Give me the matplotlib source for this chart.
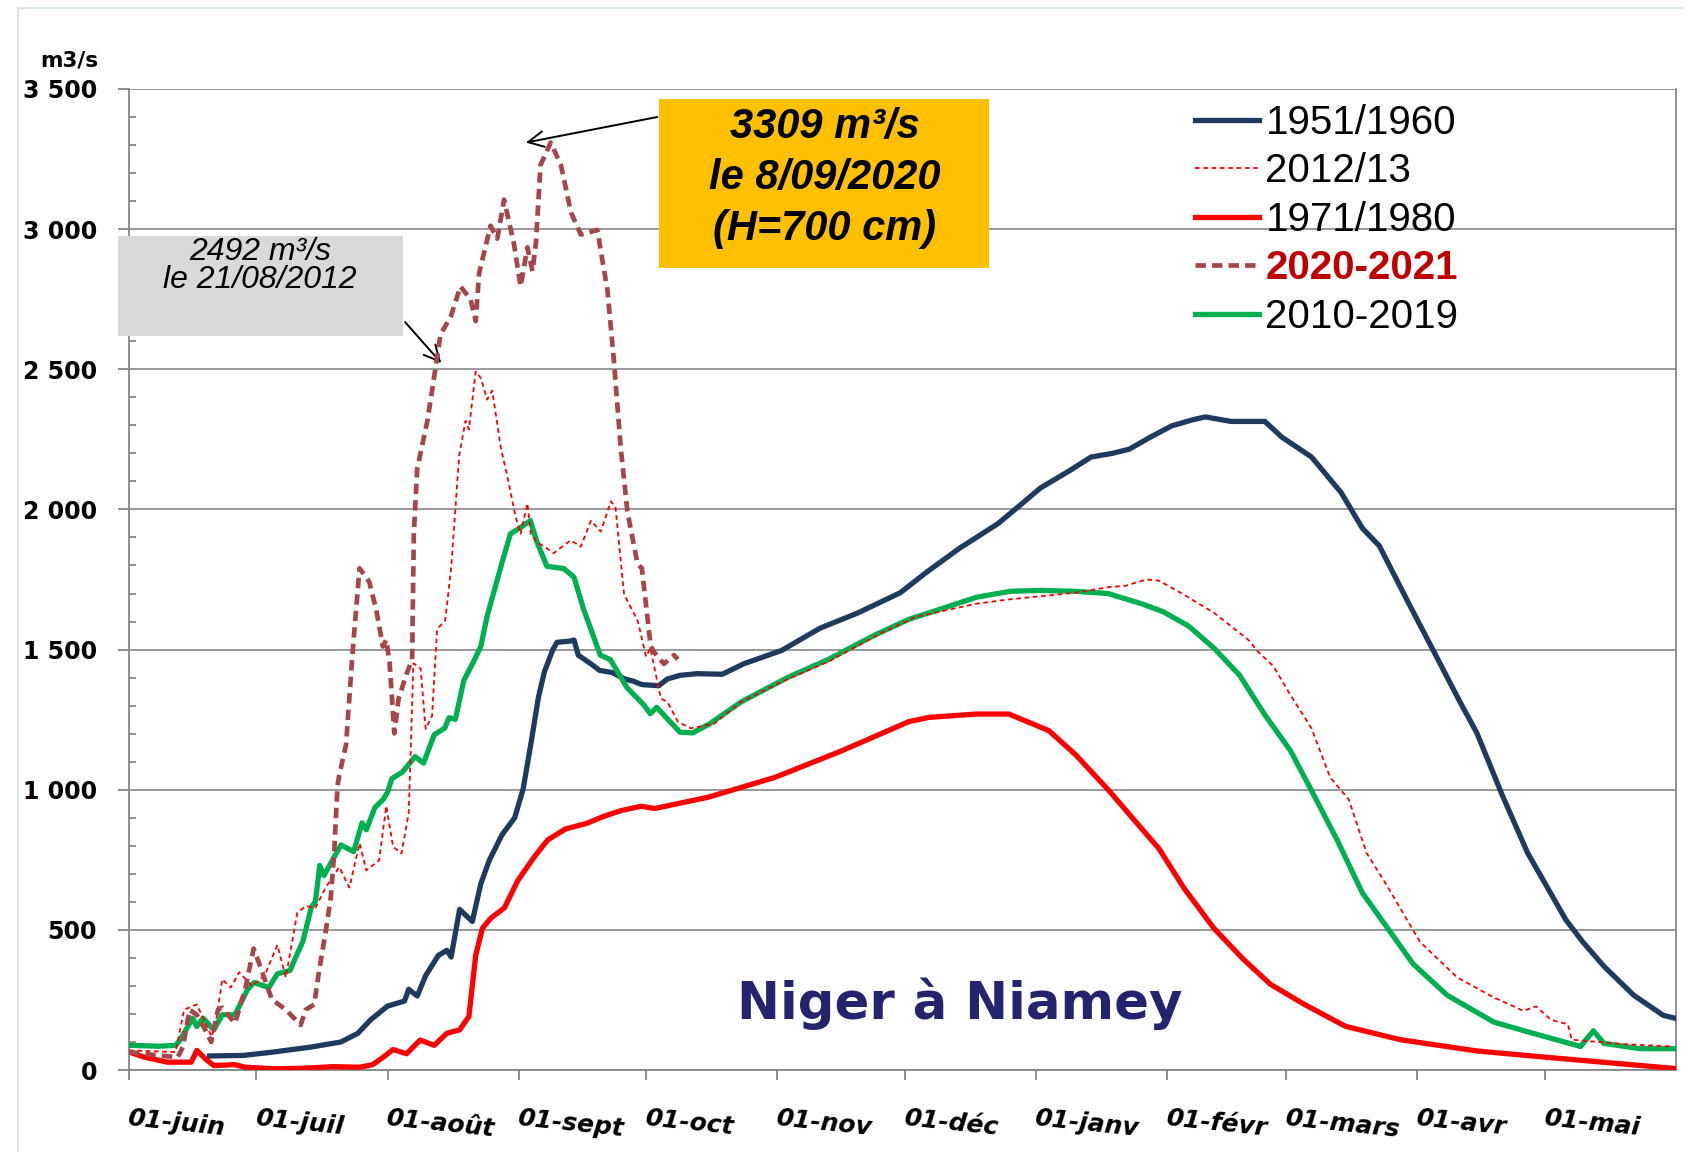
import matplotlib
matplotlib.use('Agg')
import matplotlib.pyplot as plt
from matplotlib.patches import Rectangle
from matplotlib.ticker import MultipleLocator

# x axis: days counted from 1 June
month_days = [0, 30, 61, 92, 122, 153, 183, 214, 245, 273, 304, 334]
month_labels = ['01-juin', '01-juil', '01-août', '01-sept', '01-oct', '01-nov',
                '01-déc', '01-janv', '01-févr', '01-mars', '01-avr', '01-mai']
y_ticks = [0, 500, 1000, 1500, 2000, 2500, 3000, 3500]
y_labels = ['0', '500', '1 000', '1 500', '2 000', '2 500', '3 000', '3 500']

# 1951/1960
d_1951 = [19, 27, 34, 43, 50, 54, 57, 61, 65, 66, 68, 70, 73, 75, 76, 78, 81, 83, 85, 88,
          91, 93, 95, 96.6, 98, 100, 101, 104, 105, 106, 109, 111, 114, 117, 119, 121, 125,
          127, 130, 134, 140, 145, 154, 163, 172, 182, 188, 196, 205, 210, 215, 222, 227,
          232, 236, 241, 246, 251, 254, 260, 268, 272, 279, 286, 291, 295, 302, 308, 314,
          318, 324, 330, 333, 339, 343, 348, 355, 362, 365]
q_1951 = [50, 52, 64, 82, 100, 131, 179, 228, 246, 288, 264, 337, 409, 427, 403, 573, 530,
          664, 748, 839, 900, 1003, 1180, 1330, 1420, 1500, 1526, 1530, 1534, 1480, 1449,
          1426, 1418, 1395, 1387, 1375, 1371, 1395, 1408, 1414, 1412, 1449, 1497, 1576,
          1631, 1703, 1774, 1862, 1949, 2012, 2076, 2139, 2187, 2200, 2215, 2258, 2298,
          2320, 2330, 2314, 2314, 2258, 2187, 2060, 1933, 1870, 1663, 1489, 1314, 1203,
          981, 774, 695, 536, 457, 370, 267, 195, 184]

# 2012/13
d_2012 = [0, 11, 13, 16, 19.5, 20.5, 22, 24, 26, 29, 32, 35, 37, 39.7, 41.7, 44, 46.4,
          49.6, 52, 54.4, 56, 59, 60.7, 62.3, 64.3, 66, 67.1, 68.8, 70, 71.5, 72.7, 74.6,
          76, 77.9, 79.4, 80.2, 81.8, 83, 84.5, 85.7, 87.7, 89.3, 91.2, 92.4, 94, 94.8,
          96.3, 98, 100.2, 104.2, 106.6, 109, 111.3, 113.7, 114.8, 116.8, 120, 122, 123,
          125.5, 127, 129.5, 132.5, 138, 144.5, 154, 165, 177.6, 185.5, 199.7, 207.6, 223.4,
          231.2, 235, 240, 243, 249, 256, 264, 266.6, 270, 273.7, 279, 283.4, 287.8, 292,
          296.6, 304.6, 313.4, 322, 329, 332, 335.5, 339.5, 340.4, 353, 364]
q_2012 = [70, 64, 215, 234, 119, 167, 324, 294, 349, 300, 337, 446, 330, 561, 585, 579, 651,
          724, 651, 809, 712, 748, 942, 797, 772, 918, 1451, 1433, 1217, 1263, 1573, 1604,
          1789, 2192, 2316, 2285, 2492, 2469, 2392, 2424, 2223, 2115, 1975, 1913, 2022, 1913,
          1882, 1867, 1844, 1890, 1867, 1960, 1921, 2029, 2006, 1697, 1604, 1475, 1505,
          1325, 1314, 1243, 1219, 1235, 1314, 1385, 1457, 1560, 1616, 1663, 1679, 1703,
          1723, 1727, 1750, 1746, 1695, 1631, 1536, 1489, 1441, 1346, 1219, 1044, 965, 774,
          663, 457, 330, 259, 211, 227, 179, 163, 108, 92, 84]

# 1971/1980
d_1971 = [0, 3.6, 9, 14.7, 16, 18, 20, 25, 27.4, 34.5, 42.5, 48, 54.4, 57.5, 60, 62.3, 65.5,
          68.7, 72, 75, 78, 80.2, 81.8, 83.4, 85.4, 88.6, 91.7, 95.6, 98.8, 103, 108, 112,
          116, 120.8, 124, 136.6, 152.4, 168.2, 184, 188.7, 200, 207.6, 217, 223.4, 231.2,
          237.5, 243, 249, 256, 263, 269.3, 277.2, 287, 300, 318, 335.5, 365]
q_1971 = [64, 46, 28, 28, 70, 40, 16, 19, 10, 4, 7, 12, 10, 19, 46, 73, 58, 107, 88, 131,
          143, 191, 409, 506, 542, 579, 675, 760, 821, 860, 880, 905, 925, 941, 933, 973,
          1044, 1139, 1243, 1258, 1270, 1270, 1211, 1124, 997, 886, 790, 647, 505, 394, 306,
          235, 156, 108, 68, 44, 5]

# 2020-2021
d_2020 = [0, 6.7, 11.5, 12.7, 14.3, 16, 18, 19.4, 21, 22, 25, 27.4, 29.4, 30.6, 33.7, 37,
          40.5, 41.7, 43.7, 44.8, 46.4, 47.6, 48.4, 49.2, 49.6, 51.2, 52.8, 54.4, 56.7, 58.3,
          59.9, 60.7, 61.5, 62.6, 63.6, 65.6, 66.8, 67.2, 68, 70.4, 72.3, 73.5, 75.9, 78.2,
          80.6, 81.8, 82.6, 85.3, 86.9, 88.5, 90.8, 92.4, 94, 95.2, 96, 97.1, 99.5, 101.9,
          104.3, 106.6, 110.5, 112.9, 114.4, 116, 117.6, 120, 121, 123.1, 124, 126.2, 128.6,
          129.5]
q_2020 = [64, 52, 46, 82, 215, 197, 143, 100, 215, 222, 167, 288, 433, 385, 252, 215, 161,
          215, 234, 349, 494, 615, 772, 1015, 1051, 1160, 1499, 1790, 1741, 1644, 1511, 1535,
          1451, 1201, 1325, 1418, 1464, 1913, 2145, 2316, 2502, 2625, 2687, 2796, 2749, 2672,
          2842, 3012, 2966, 3105, 2950, 2796, 2935, 2850, 2950, 3229, 3309, 3229, 3059, 2981,
          2997, 2780, 2532, 2223, 1991, 1805, 1790, 1511, 1489, 1449, 1480, 1465]

# 2010-2019
d_2010 = [0, 7, 11, 12, 15, 16, 17.5, 20, 22, 25, 28, 29.5, 33, 35, 38, 39, 41, 43, 44, 45,
          46, 50, 53, 55, 56, 58, 60, 61, 62, 64.5, 67.5, 69.5, 72, 74.5, 75.5, 77, 79, 81.5,
          83, 84.5, 86.5, 88, 90, 92.5, 94.7, 96.3, 98.6, 102.6, 105, 107.3, 111.2, 113.6,
          117.5, 121.5, 123, 124.5, 130, 133, 137, 144.5, 155.5, 165, 176, 184, 192, 200, 208,
          215, 223, 231, 239, 244, 250, 256, 262, 268, 274, 279, 285, 291, 297, 303, 311, 322,
          331, 342.5, 345.5, 348, 356.5, 365]
q_2010 = [88, 85, 88, 106, 185, 155, 185, 143, 197, 197, 288, 312, 294, 343, 355, 391, 458,
          579, 603, 730, 694, 803, 779, 882, 857, 936, 966, 991, 1039, 1063, 1118, 1095, 1196,
          1220, 1257, 1251, 1390, 1463, 1511, 1619, 1728, 1810, 1913, 1937, 1960, 1882, 1797,
          1789, 1758, 1642, 1480, 1464, 1364, 1302, 1271, 1294, 1205, 1203, 1235, 1314, 1401,
          1465, 1552, 1608, 1647, 1687, 1708, 1711, 1708, 1700, 1663, 1635, 1584, 1505, 1409,
          1267, 1140, 997, 822, 632, 505, 378, 267, 171, 132, 84, 140, 95, 76, 76]

W, H = 1684, 1152
fig = plt.figure(figsize=(W / 100, H / 100), dpi=100)
ax = fig.add_axes([129 / W, (H - 1070) / H, (1676 - 129) / W, (1070 - 89) / H])

navy = '#1F3A5F'
l1, = ax.plot(d_1951, q_1951, color=navy, lw=3.8, label='1951/1960', zorder=3)
l3, = ax.plot(d_1971, q_1971, color='#FF0000', lw=3.8, label='1971/1980', zorder=3)
l5, = ax.plot(d_2010, q_2010, color='#00B050', lw=3.8, label='2010-2019', zorder=4)
l2, = ax.plot(d_2012, q_2012, color='#FF0000', lw=1.3, ls=(0, (2.6, 2.0)),
              label='2012/13', zorder=5)
l4, = ax.plot(d_2020, q_2020, color='#A5474A', lw=3.4, ls=(0, (2.2, 1.3)),
              label='2020-2021', zorder=6)

ax.set_xlim(0, 365)
ax.set_ylim(0, 3500)
ax.set_yticks(y_ticks)
ax.set_yticklabels(y_labels, fontsize=17, fontweight='bold', family='DejaVu Sans')
ax.yaxis.set_minor_locator(MultipleLocator(100))
ax.set_xticks(month_days)
ax.set_xticklabels(month_labels, rotation=-6, ha='left', va='top', rotation_mode='anchor',
                   fontsize=18, fontweight='bold', fontstyle='italic', family='DejaVu Sans')

grey = '#878787'
ax.grid(axis='y', which='major', color=grey, lw=1.2)
ax.set_axisbelow(True)
for s in ['left', 'bottom', 'right']:
    ax.spines[s].set_color(grey)
    ax.spines[s].set_linewidth(1.3)
ax.spines['top'].set_visible(False)
ax.tick_params(axis='y', which='major', direction='out', length=8, width=1.3, color=grey, pad=15)
ax.tick_params(axis='y', which='minor', direction='in', length=5, width=1.3, color=grey)
ax.tick_params(axis='x', which='major', direction='out', length=7, width=1.3, color=grey, pad=19)

fig.text(98 / W, 1 - 67 / H, 'm3/s', ha='right', va='baseline', fontsize=15.5,
         fontweight='bold', family='DejaVu Sans')

leg = ax.legend([l1, l2, l3, l4, l5], ['1951/1960', '2012/13', '1971/1980', '2020-2021', '2010-2019'],
                loc='upper left', bbox_to_anchor=(1195 / W, 1 - 104 / H),
                bbox_transform=fig.transFigure, frameon=False,
                prop={'family': 'Liberation Sans', 'size': 29},
                handlelength=1.6, handletextpad=0.15, labelspacing=0.26,
                borderpad=0, borderaxespad=0)
t = leg.get_texts()[3]
t.set_color('#C00000')
t.set_fontweight('bold')

# orange annotation box
fig.add_artist(Rectangle((659 / W, 1 - 268 / H), 330 / W, 169 / H, transform=fig.transFigure,
                         facecolor='#FFC000', edgecolor='none', zorder=5))
fig.text(825 / W, 1 - 178 / H, '3309 m³/s\nle 8/09/2020\n(H=700 cm)', ha='center', va='center',
         fontsize=30, fontweight='bold', fontstyle='italic', family='Liberation Sans',
         linespacing=1.36, zorder=6)

# grey annotation box
fig.add_artist(Rectangle((118 / W, 1 - 336 / H), 285 / W, 100 / H, transform=fig.transFigure,
                         facecolor='#D9D9D9', edgecolor='none', zorder=5))
fig.text(260 / W, 1 - 252 / H, '2492 m³/s', ha='center', va='center', fontsize=23,
         fontstyle='italic', family='Liberation Sans', zorder=6)
fig.text(260 / W, 1 - 280 / H, 'le 21/08/2012', ha='center', va='center', fontsize=23,
         fontstyle='italic', family='Liberation Sans', zorder=6)

arrow = dict(arrowstyle='->', color='black', lw=1.4, mutation_scale=28)
ax.annotate('', xy=(93, 3307), xytext=(125.3, 3402), arrowprops=arrow, annotation_clip=False)
ax.annotate('', xy=(74.1, 2515), xytext=(64.7, 2676), arrowprops=arrow, annotation_clip=False)

ax.text(0.537, 0.068, 'Niger à Niamey', transform=ax.transAxes, ha='center', va='center',
        fontsize=37, fontweight='bold', color='#23236E', family='DejaVu Sans')

# light frame of the chart area
fig.add_artist(plt.Line2D([18 / W, 18 / W], [0, 1 - 8 / H], transform=fig.transFigure,
                          color='#DCE6F2', lw=1.5))
fig.add_artist(plt.Line2D([18 / W, 1], [1 - 8 / H, 1 - 8 / H], transform=fig.transFigure,
                          color='#DCE6F2', lw=1.5))

fig.savefig('out.png', dpi=100)
